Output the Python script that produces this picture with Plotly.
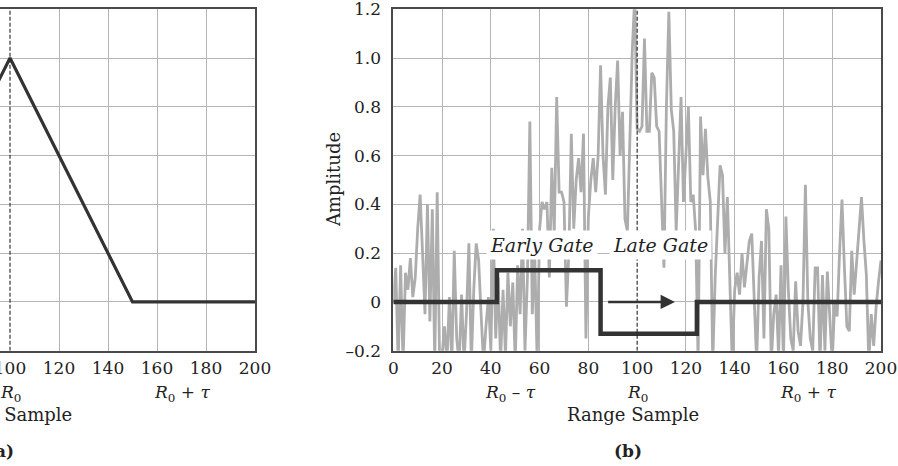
import plotly.graph_objects as go

# ---------------- data ----------------
tri_x = [0, 50, 100, 150, 200]
tri_y = [0, 0, 1.0, 0, 0]

noise_y = [
    0.00, 0.14, -0.25, 0.15, -0.25, 0.12, 0.05, 0.18, 0.02, 0.10,
    0.30, 0.44, 0.20, -0.05, 0.40, -0.08, 0.38, -0.25, 0.45, -0.25,
    -0.22, -0.10, -0.25, 0.02, -0.25, 0.21, -0.15, -0.25, 0.03, -0.25,
    -0.05, 0.24, -0.25, 0.05, 0.24, 0.17, -0.05, -0.25, -0.10, 0.02,
    -0.20, 0.30, -0.15, 0.10, -0.25, 0.05, -0.22, 0.12, -0.10, 0.08,
    -0.25, 0.15, -0.05, 0.30, -0.20, 0.10, 0.74, -0.05, 0.20, -0.25,
    0.30, 0.41, 0.38, 0.41, 0.10, 0.55, 0.28, 0.84, 0.45, 0.45,
    0.41, -0.02, 0.20, 0.69, 0.30, 0.50, 0.59, 0.45, 0.69, -0.15,
    0.35, 0.50, 0.59, 0.45, 0.60, 0.97, 0.60, 0.44, 0.80, 0.92,
    0.50, 0.80, 0.99, 0.60, 0.78, 0.34, 0.29, 0.71, 1.03, 1.25,
    0.71, 0.70, 0.72, 1.08, 0.70, 0.70, 0.94, 0.92, 0.72, 0.70,
    0.45, 0.14, 0.80, 1.19, 0.79, 0.70, 0.29, 0.55, 0.84, 0.41,
    0.60, 0.80, 0.41, 0.44, 0.29, -0.25, 0.76, 0.52, 0.71, 0.51,
    0.41, -0.25, 0.10, 0.35, 0.56, 0.52, 0.20, 0.43, 0.05, -0.25,
    0.05, 0.12, 0.03, 0.20, 0.06, 0.15, 0.25, 0.28, 0.00, -0.25,
    0.10, 0.25, -0.15, 0.38, 0.30, -0.25, -0.05, 0.03, -0.22, 0.15,
    -0.25, 0.35, 0.05, -0.15, -0.20, 0.085, -0.12, -0.18, 0.00, 0.48,
    0.00, -0.15, -0.20, 0.14, 0.14, -0.25, 0.11, -0.20, 0.125, -0.10,
    -0.25, 0.00, -0.06, 0.20, 0.42, 0.14, -0.10, -0.12, 0.21, 0.03,
    0.17, 0.30, 0.43, 0.25, 0.11, -0.25, -0.05, -0.18, -0.02, 0.085,
    0.17,
]
noise_x = list(range(len(noise_y)))

gate_x = [0, 42.5, 42.5, 85, 85, 124.5, 124.5, 200]
gate_y = [0, 0, 0.13, 0.13, -0.13, -0.13, 0, 0]

x_ticks = [0, 20, 40, 60, 80, 100, 120, 140, 160, 180, 200]
y_ticks = [-0.2, 0, 0.2, 0.4, 0.6, 0.8, 1.0, 1.2]
y_ticktext = ["\u20130.2", "0", "0.2", "0.4", "0.6", "0.8", "1.0", "1.2"]

r0 = 100
arrow_from, arrow_to = 87.5, 115.5

# ---------------- geometry (page pixels -> paper) ----------------
W, H = 898, 466


def fx(p):
    return p / W


def fy(p):
    return 1 - p / H


a_left_val = 200 - 255 / 2.45

# ---------------- styles ----------------
FONT = "DejaVu Serif"
GRID = "#b5b5b5"
FRAME = "#4a4a4a"
DARK = "#333333"
NOISE = "#adadad"
TXT = "#222222"
TICK = 17
TITLE = 18

ydom = [fy(350.7), fy(9.3)]

fig = go.Figure()

fig.add_trace(go.Scatter(x=tri_x, y=tri_y, mode="lines", xaxis="x", yaxis="y",
                         line=dict(color=DARK, width=3.2), showlegend=False, hoverinfo="skip"))
fig.add_trace(go.Scatter(x=noise_x, y=noise_y, mode="lines", xaxis="x2", yaxis="y2",
                         line=dict(color=NOISE, width=2.8), showlegend=False, hoverinfo="skip"))
fig.add_trace(go.Scatter(x=gate_x, y=gate_y, mode="lines", xaxis="x2", yaxis="y2",
                         line=dict(color=DARK, width=4.5), showlegend=False, hoverinfo="skip"))

grid_vals = [v for v in x_ticks if v != r0]

common_x = dict(tickvals=x_ticks, showgrid=False, zeroline=False, ticks="",
                tickfont=dict(family=FONT, size=TICK, color=TXT),
                ticklabeloverflow="allow", ticklabelstandoff=1, automargin=False,
                minor=dict(tickmode="array", tickvals=grid_vals, showgrid=True,
                           gridcolor=GRID, gridwidth=1.3, ticks=""),
                showline=True, mirror=True, linecolor=FRAME, linewidth=1.6)

fig.update_layout(
    width=W, height=H, autosize=False,
    margin=dict(l=0, r=0, t=0, b=0, pad=0, autoexpand=False),
    paper_bgcolor="white", plot_bgcolor="white",
    font=dict(family=FONT, color=TXT),
    xaxis=dict(domain=[0, fx(255)], range=[a_left_val, 200], anchor="y", **common_x),
    yaxis=dict(domain=ydom, range=[-0.2, 1.2], anchor="x", tickvals=y_ticks,
               showticklabels=False, showgrid=True, gridcolor=GRID, gridwidth=1.3,
               zeroline=False, ticks="", side="right", automargin=False,
               showline=True, linecolor=FRAME, linewidth=1.6),
    xaxis2=dict(domain=[fx(393.3), fx(881)], range=[0, 200], anchor="y2", **common_x),
    yaxis2=dict(domain=ydom, range=[-0.2, 1.2], anchor="x2", tickvals=y_ticks,
                ticktext=y_ticktext, showgrid=True, gridcolor=GRID, gridwidth=1.3,
                zeroline=False, ticks="", ticklabelstandoff=7, ticklabeloverflow="allow",
                automargin=False,
                tickfont=dict(family=FONT, size=TICK, color=TXT),
                showline=True, mirror=True, linecolor=FRAME, linewidth=1.6),
)

# dashed R0 lines
for xr, yr in (("x", "y"), ("x2", "y2")):
    fig.add_shape(type="line", xref=xr, yref=yr, x0=r0, x1=r0, y0=-0.2, y1=1.2,
                  line=dict(color="#222", width=1.1, dash="4px,2px"))


def label(x, y, text, xref, size, **kw):
    fig.add_annotation(x=x, y=y, xref=xref, yref="paper", showarrow=False,
                       xanchor="center", yanchor="middle", text=text,
                       font=dict(size=size, family=FONT, color=TXT), **kw)


# sub labels under axes
sub_y = fy(393)
for xr in ("x", "x2"):
    label(r0, sub_y, "<i>R</i><sub>0</sub>", xr, TICK)
    label(170, sub_y, "<i>R</i><sub>0</sub> + <i>\u03c4</i>", xr, TICK)
    label(98.2, fy(414), "Range Sample", xr, TITLE)
label(48, sub_y, "<i>R</i><sub>0</sub> \u2013 <i>\u03c4</i>", "x2", TICK)
label(96.3, fy(451), "<b>(a)</b>", "x", TICK)
label(96.3, fy(451), "<b>(b)</b>", "x2", TICK)

# y axis title for (b)
label(fx(333), fy(180), "Amplitude", "paper", TITLE, textangle=-90)

# gate labels
fig.add_annotation(x=61.1, y=0.232, xref="x2", yref="y2", showarrow=False,
                   xanchor="center", yanchor="middle",
                   text="<i>Early Gate</i>", bgcolor="white", borderpad=3,
                   font=dict(size=19, family=FONT, color=TXT))
fig.add_annotation(x=109.7, y=0.232, xref="x2", yref="y2", showarrow=False,
                   xanchor="center", yanchor="middle",
                   text="<i>Late Gate</i>", bgcolor="white", borderpad=3,
                   font=dict(size=19, family=FONT, color=TXT))

# arrow
fig.add_annotation(x=arrow_to, y=0, ax=arrow_from, ay=0, xref="x2", yref="y2",
                   axref="x2", ayref="y2", showarrow=True, text="",
                   arrowhead=2, arrowsize=1.1, arrowwidth=2.6, arrowcolor=DARK)

fig.write_html(
    "out.html",
    config={"displayModeBar": False, "responsive": False},
    post_script="document.body.style.margin='0';document.body.style.padding='0';"
                "document.documentElement.style.overflow='hidden';",
)
